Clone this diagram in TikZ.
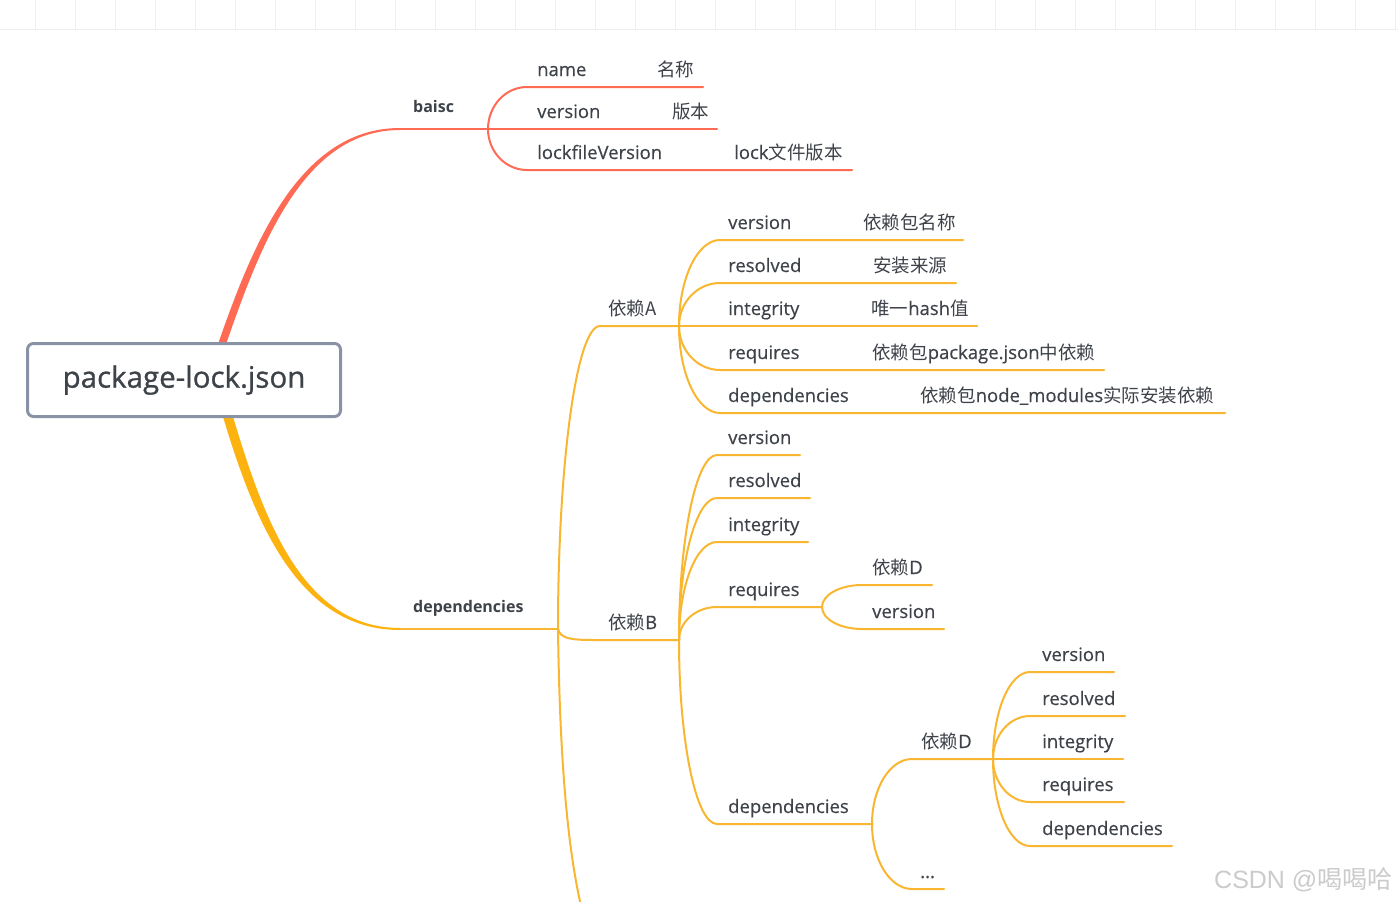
\documentclass[tikz,border=0pt]{standalone}
\usepackage{fontspec}
\setmainfont{Open Sans}
\newfontfamily\txtfont{Open Sans}[FakeBold=0.35]
\newfontfamily\titlefont{Open Sans}[FakeBold=0.9]
\newfontfamily\cjk{Noto Sans CJK SC}
\newfontfamily\wmfont{Liberation Sans}
\usetikzlibrary{calc}
\definecolor{redc}{HTML}{FF6A55}
\definecolor{yelmain}{HTML}{FDB30F}
\definecolor{yelc}{HTML}{F9B731}
\definecolor{tc}{HTML}{3E4249}
\definecolor{rootc}{HTML}{8A93A6}
\definecolor{gridc}{HTML}{EFEFEF}
\definecolor{wmc}{HTML}{CBCBCB}
\newcommand\mmkid[6]{% style, junction, name, sx, ly, ex
  \coordinate (#3-s) at (#4,#5);
  \coordinate (#3-e) at (#6,#5);
  \draw[#1] (#2) to[elbow] (#3-s) -- (#3-e);
}
\begin{document}
\begin{tikzpicture}[x=1pt,y=-1pt,
  txt/.style={anchor=base west, inner sep=0pt, text=tc, font=\txtfont\fontsize{18.5}{20}\selectfont},
  lone/.style={anchor=base west, inner sep=0pt, text=tc, font=\fontsize{16}{18}\selectfont\bfseries},
  rl/.style={draw=redc, line width=2pt, line cap=round},
  yl/.style={draw=yelc, line width=2pt, line cap=round},
  elbow/.style={to path={.. controls ($(\tikztostart)!0.552!(\tikztostart|-\tikztotarget)$) and ($(\tikztotarget)!0.552!(\tikztostart|-\tikztotarget)$) .. (\tikztotarget)}}
]
\useasboundingbox (0,0) rectangle (1398,902);
\fill[white] (0,0) rectangle (1398,902);
% faint grid strip
\foreach \gx in {35,75,...,1395} \draw[gridc, line width=1pt] (\gx,0) -- (\gx,29);
\draw[gridc, line width=1pt] (0,29) -- (1398,29);

% main branches (tapered)
\coordinate (Rb) at (400,129);
\coordinate (Rd) at (400,629);
\fill[redc] (216,350) .. controls (251,248) and (298,128) .. (400,128) -- (400,130) .. controls (301,130) and (258,252) .. (224,350) -- cycle;
\fill[yelmain] (221,410) .. controls (254,522) and (298,630) .. (400,630) -- (400,628) .. controls (302,628) and (263,518) .. (231,410) -- cycle;

% root
\node[draw=rootc, line width=3pt, rounded corners=6pt, fill=white, minimum width=313pt, minimum height=73pt, inner sep=0pt, text=tc, font=\titlefont\fontsize{29.5}{32}\selectfont] (root) at (184,380) {package-lock.json};

% level 1
\coordinate (Jb) at (488,129);
\coordinate (Jd) at (558,629);
\draw[rl] (Rb) -- (Jb);
\draw[draw=yelc, line width=2pt] (Rd) -- (Jd);
\node[lone] (baisc) at (413,112) {baisc};
\node[lone] (deps) at (413,612) {dependencies};

% baisc children
\mmkid{rl}{Jb}{bn}{527}{87}{703}
\mmkid{rl}{Jb}{bv}{527}{129}{717}
\mmkid{rl}{Jb}{bl}{527}{170}{852}
\node[txt] (bnT) at (537,76) {name};
\node[txt] (bnD) at (657,76) {\cjk 名称};
\node[txt] (bvT) at (537,118) {version};
\node[txt] (bvD) at (672,118) {\cjk 版本};
\node[txt] (blT) at (537,159) {lockfileVersion};
\node[txt] (blD) at (734,159) {lock{\cjk 文件版本}};

% dependencies children
\coordinate (JA) at (679,326);
\coordinate (JB) at (679,640);
\mmkid{yl}{Jd}{dA}{600}{326}{679}
\coordinate (dB-s) at (592,640);
\draw[yl] (Jd) .. controls (560,638) and (570,640) .. (dB-s) -- (JB);
\coordinate (Cdown) at (582,910);
\draw[yl] (Jd) .. controls (560,780) and (570,860) .. (Cdown);
\node[txt] (depA) at (608,315) {\cjk 依赖A};
\node[txt] (depB) at (608,629) {{\cjk 依赖}B};

% A children
\mmkid{yl}{JA}{a1}{720}{240}{963}
\mmkid{yl}{JA}{a2}{720}{283}{956}
\mmkid{yl}{JA}{a3}{720}{326}{977}
\mmkid{yl}{JA}{a4}{720}{370}{1104}
\mmkid{yl}{JA}{a5}{720}{413}{1225}
\node[txt] (a1T) at (728,229) {version};
\node[txt] (a1D) at (863,229) {\cjk 依赖包名称};
\node[txt] (a2T) at (728,272) {resolved};
\node[txt] (a2D) at (873,272) {\cjk 安装来源};
\node[txt] (a3T) at (728,315) {integrity};
\node[txt] (a3D) at (871,315) {{\cjk 唯一}hash{\cjk 值}};
\node[txt] (a4T) at (728,359) {requires};
\node[txt] (a4D) at (872,359) {{\cjk 依赖包}package.json{\cjk 中依赖}};
\node[txt] (a5T) at (728,402) {dependencies};
\node[txt] (a5D) at (920,402) {{\cjk 依赖包}node\_modules{\cjk 实际安装依赖}};

% B children
\coordinate (JR) at (822,607);
\coordinate (JP) at (872,824);
\mmkid{yl}{JB}{b1}{717}{455}{800}
\mmkid{yl}{JB}{b2}{717}{498}{810}
\mmkid{yl}{JB}{b3}{717}{542}{808}
\mmkid{yl}{JB}{b4}{717}{607}{822}
\mmkid{yl}{JB}{b5}{717}{824}{872}
\node[txt] (b1T) at (728,444) {version};
\node[txt] (b2T) at (728,487) {resolved};
\node[txt] (b3T) at (728,531) {integrity};
\node[txt] (b4T) at (728,596) {requires};
\node[txt] (b5T) at (728,813) {dependencies};

% requires children
\mmkid{yl}{JR}{r1}{862}{585}{932}
\mmkid{yl}{JR}{r2}{862}{629}{944}
\node[txt] (r1T) at (872,574) {{\cjk 依赖}D};
\node[txt] (r2T) at (872,618) {version};

% dependencies (B) children
\coordinate (JD) at (993,759);
\mmkid{yl}{JP}{p1}{912}{759}{993}
\mmkid{yl}{JP}{p2}{912}{889}{944}
\node[txt] (p1T) at (921,748) {{\cjk 依赖}D};
\node[txt] (p2T) at (920,878) {...};

% D children
\mmkid{yl}{JD}{d1}{1030}{672}{1114}
\mmkid{yl}{JD}{d2}{1030}{716}{1125}
\mmkid{yl}{JD}{d3}{1030}{759}{1123}
\mmkid{yl}{JD}{d4}{1030}{802}{1124}
\mmkid{yl}{JD}{d5}{1030}{846}{1172}
\node[txt] (d1T) at (1042,661) {version};
\node[txt] (d2T) at (1042,705) {resolved};
\node[txt] (d3T) at (1042,748) {integrity};
\node[txt] (d4T) at (1042,791) {requires};
\node[txt] (d5T) at (1042,835) {dependencies};

% watermark
\node[anchor=base west, inner sep=0pt, text=wmc, font=\wmfont\fontsize{25}{26}\selectfont] (wm) at (1214,888) {CSDN @{\cjk 喝喝哈}};
\end{tikzpicture}
\end{document}
